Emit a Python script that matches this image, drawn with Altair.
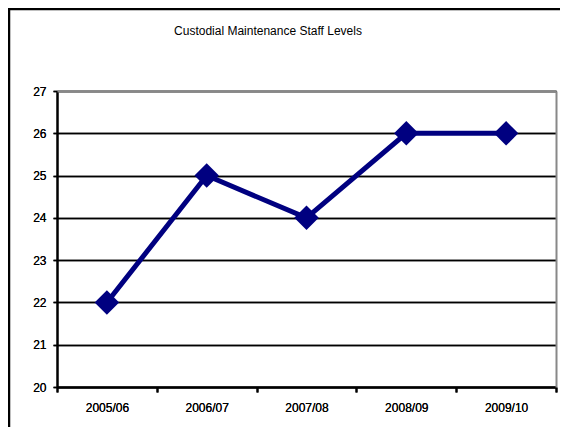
import altair as alt
import pandas as pd

periods = ["2005/06", "2006/07", "2007/08", "2008/09", "2009/10"]
staff = [22, 25, 24, 26, 26]
y_ticks = [20, 21, 22, 23, 24, 25, 26, 27]
title_text = "Custodial Maintenance Staff Levels"

df = pd.DataFrame({"period": periods, "staff": staff})
FONT = "Liberation Sans"

x_scale = alt.Scale(domain=periods, paddingInner=0, paddingOuter=0)
y_scale = alt.Scale(domain=[20, 27], nice=False, zero=False)

base = alt.Chart(df)

x_main = alt.X("period:N", sort=periods, scale=x_scale, title=None,
               axis=alt.Axis(orient="bottom", labelAngle=0, tickBand="extent",
                             domainColor="black", domainWidth=2, tickColor="black",
                             tickWidth=2, tickSize=5, labelPadding=10, labelFont=FONT,
                             labelFontSize=12, labelFontWeight="normal",
                             labelColor="black", grid=False))
y_main = alt.Y("staff:Q", scale=y_scale, title=None,
               axis=alt.Axis(orient="left", values=y_ticks, domainColor="black",
                             domainWidth=2, tickColor="black", tickWidth=1.5, tickSize=4,
                             labelPadding=7, labelFont=FONT, labelFontSize=12,
                             labelFontWeight="normal",
                             labelColor="black", grid=True, gridColor="black",
                             gridWidth=1.5, gridOpacity=1))

frame = base.mark_point(opacity=0).encode(
    x=alt.X("period:N", sort=periods, scale=x_scale, title=None,
            axis=alt.Axis(orient="top", labels=False, ticks=False, grid=False,
                          domainColor="#888888", domainWidth=2, zindex=1)),
    y=alt.Y("staff:Q", scale=y_scale, title=None,
            axis=alt.Axis(orient="right", labels=False, ticks=False, grid=False,
                          domainColor="#888888", domainWidth=2, zindex=1)),
)

line = base.mark_line(color="#000080", strokeWidth=5).encode(x=x_main, y=y_main)
points = base.mark_point(shape="diamond", filled=True, size=600, color="#000080",
                         opacity=1).encode(x=x_main, y=y_main)

title = alt.Chart(pd.DataFrame({"t": [title_text]})).mark_text(
    font=FONT, fontSize=12, color="black", baseline="alphabetic", align="center"
).encode(text="t:N", x=alt.value(211), y=alt.value(-56))

border_left = alt.Chart(pd.DataFrame({"b": [0]})).mark_rule(
    color="black", strokeWidth=2.5).encode(
    x=alt.value(-48), y=alt.value(-83), y2=alt.value(340))
border_top = alt.Chart(pd.DataFrame({"b": [0]})).mark_rule(
    color="black", strokeWidth=2.5).encode(
    y=alt.value(-82), x=alt.value(-49), x2=alt.value(504))

chart = alt.layer(frame, line, points, title, border_left, border_top).resolve_axis(
    x="independent", y="independent"
).properties(
    width=499, height=296,
    autosize=alt.AutoSizeParams(type="none"),
    padding={"left": 49, "top": 83, "right": 4, "bottom": 40},
).configure_view(stroke=None).configure(background="white")

chart.save("out.html", embed_options={"renderer": "svg", "actions": False})
